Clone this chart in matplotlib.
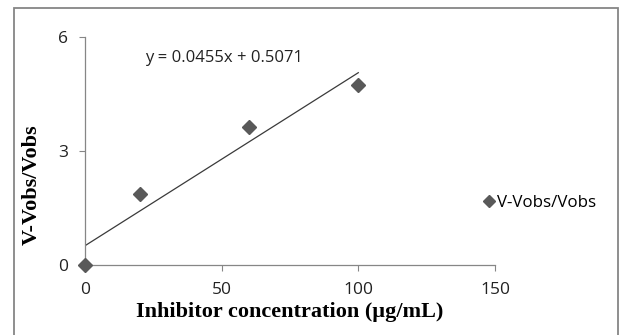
import numpy as np
import matplotlib.pyplot as plt
from matplotlib.patches import Rectangle

# data
conc = [0, 20, 60, 100]
ratio = [0, 1.87, 3.62, 4.73]
slope = 0.0455
intercept = 0.5071
xticks = [0, 50, 100, 150]
yticks = [0, 3, 6]

fig = plt.figure(figsize=(6.22, 3.35), dpi=100)
ax = fig.add_axes([0.1367, 0.209, 0.659, 0.681])

# outer chart border
fig.patches.append(Rectangle((14/622, -0.05), 604/622, 1.05 - 8/335, transform=fig.transFigure,
                             fill=False, edgecolor='#868686', linewidth=1.3))

ax.plot(conc, ratio, 'D', color='#595959', markersize=7.5, label='V-Vobs/Vobs',
        zorder=3, clip_on=False)
xfit = np.array([conc[0], conc[-1]])
ax.plot(xfit, slope*xfit + intercept, color='#3a3a3a', linewidth=0.9)

ax.set_xlim(0, 150)
ax.set_ylim(0, 6)
ax.set_xticks(xticks)
ax.set_yticks(yticks)
for s in ['top', 'right']:
    ax.spines[s].set_visible(False)
for s in ['left', 'bottom']:
    ax.spines[s].set_color('#868686')
    ax.spines[s].set_linewidth(0.9)
ax.tick_params(direction='out', length=4, width=0.8, color='#868686',
               labelsize=12.5, labelcolor='#222222')
for lab in ax.get_xticklabels() + ax.get_yticklabels():
    lab.set_family('Open Sans')
ax.tick_params(axis='x', pad=8)
ax.tick_params(axis='y', pad=8)

ax.set_xlabel('Inhibitor concentration (µg/mL)', family='Liberation Serif',
              fontweight='bold', fontsize=16, labelpad=3)
ax.set_ylabel('V-Vobs/Vobs', family='Liberation Serif', fontweight='bold',
              fontsize=16)
ax.yaxis.set_label_coords(-0.106, 0.35)

ax.text(22, 5.45, 'y = 0.0455x + 0.5071', family='Open Sans', fontsize=12,
        color='#222222', va='center')

leg = ax.legend(loc='center left', bbox_to_anchor=(0.923, 0.27), frameon=False,
                prop={'family': 'Open Sans', 'size': 12.2}, handletextpad=-0.1,
                handlelength=1.2, markerscale=0.75)

fig.savefig('out.png', dpi=100)
